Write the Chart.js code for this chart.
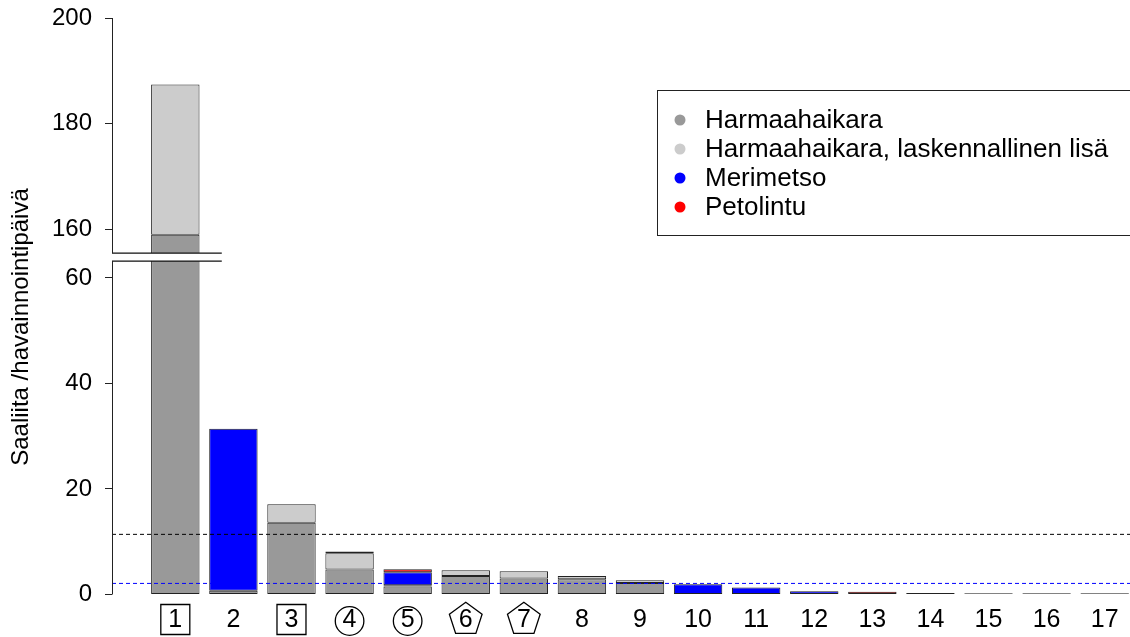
<!DOCTYPE html>
<html><head><meta charset="utf-8">
<script src="https://cdn.jsdelivr.net/npm/chart.js@4"></script>
<style>html,body{margin:0;padding:0;background:#fff;overflow:hidden}canvas{display:block}</style>
</head><body>
<canvas id="c" width="1168" height="637"></canvas>
<script>
// ---------- data ----------
const categories = ['1','2','3','4','5','6','7','8','9','10','11','12','13','14','15','16','17'];
const labelShapes = ['square','','square','circle','circle','pentagon','pentagon','','','','','','','','','',''];
const harmaahaikara     = [158.9, 0.7, 13.6, 4.75, 1.5, 3.5, 3.05, 2.9, 2.2, 0,    0,    0,    0,    0.3, 0.25, 0.25, 0.25];
const harmaahaikaraLisa = [28.5,  0,   3.5,  3.05, 0.25,1.1, 1.35, 0.6, 0.5, 0,    0,    0,    0,    0,   0,    0,    0];
const merimetso         = [0,     30.7,0,    0.35, 2.45,0,   0,    0,   0,   1.95, 1.33, 0.63, 0,    0,   0,    0,    0];
const petolintu         = [0,     0,   0,    0,    0.6, 0,   0,    0,   0,   0,    0,    0,    0.5,  0,   0,    0,    0];
const seriesNames  = ['Harmaahaikara','Harmaahaikara, laskennallinen lisä','Merimetso','Petolintu'];
const seriesColors = ['#999999','#cccccc','#0000ff','#ff0000'];
const yTickValues  = [0,20,40,60,160,180,200];
const refLines     = [11.4, 2.1];
const refColors    = ['#000000','#0000ff'];
const yAxisTitle   = 'Saaliita /havainnointipäivä';

// ---------- broken y axis ----------
const BREAK_LOW = 63.2, BREAK_HIGH = 155.45, BREAK_GAP = 1.52;
const BREAK_SHIFT = BREAK_HIGH - BREAK_LOW - BREAK_GAP;
function mapV(v){ return v <= BREAK_LOW ? v : (v >= BREAK_HIGH ? v - BREAK_SHIFT : BREAK_LOW); }

// barplot layout (width 1, space 0.2, 4% extension)
const SPACE = 0.2;
const xPos = categories.map((_, i) => SPACE + i*(1+SPACE) + 0.5);
const xL = SPACE, xR = categories.length*(1+SPACE);
const X_MIN = xL - 0.04*(xR-xL), X_MAX = xR + 0.04*(xR-xL);
const BREAK_LINE_END = 1.66;

const raw = [harmaahaikara, harmaahaikaraLisa, merimetso, petolintu];
const mapped = raw.map(() => []);
categories.forEach((_, i) => {
  let cum = 0, prevM = 0;
  raw.forEach((s, k) => {
    cum += s[i];
    const m = mapV(cum);
    mapped[k].push({x: xPos[i], y: m - prevM});
    prevM = m;
  });
});

const datasets = [];
refLines.forEach((v, k) => {
  datasets.push({
    type: 'line', label: 'ref'+k,
    data: [{x: X_MIN, y: mapV(v)}, {x: X_MAX, y: mapV(v)}],
    borderColor: refColors[k], borderWidth: 1, borderDash: [4,3],
    pointRadius: 0, fill: false, stack: 'ref'+k, order: 0
  });
});
raw.forEach((_, k) => {
  datasets.push({
    type: 'bar', label: seriesNames[k], data: mapped[k],
    backgroundColor: seriesColors[k], borderColor: '#222', borderWidth: 1,
    borderSkipped: false, categoryPercentage: 1/(1+SPACE), barPercentage: 1,
    stack: 'bars', order: 1
  });
});

const FONT = '"Liberation Sans", Arial, sans-serif';
Chart.defaults.font.family = FONT;
Chart.defaults.color = '#000';

const decor = {
  id: 'decor',
  afterDatasetsDraw(chart) {
    const ctx = chart.ctx, x = chart.scales.x, y = chart.scales.y, ca = chart.chartArea;
    const yLowTop = y.getPixelForValue(BREAK_LOW);
    const yHighBot = y.getPixelForValue(BREAK_LOW + BREAK_GAP);
    const xEnd = x.getPixelForValue(BREAK_LINE_END);
    ctx.save();
    ctx.fillStyle = '#fff';
    ctx.fillRect(ca.left, yHighBot, xEnd - ca.left, yLowTop - yHighBot);
    ctx.strokeStyle = '#111'; ctx.lineWidth = 1.3;
    ctx.beginPath();
    ctx.moveTo(ca.left, yHighBot); ctx.lineTo(xEnd, yHighBot);
    ctx.moveTo(ca.left, yLowTop); ctx.lineTo(xEnd, yLowTop);
    ctx.stroke();
    // axis segments
    ctx.strokeStyle = '#222'; ctx.lineWidth = 1;
    const ax = Math.round(ca.left) + 0.5;
    ctx.beginPath();
    ctx.moveTo(ax, y.getPixelForValue(0)); ctx.lineTo(ax, yLowTop);
    ctx.moveTo(ax, yHighBot); ctx.lineTo(ax, y.getPixelForValue(mapV(200)));
    ctx.stroke();
    ctx.restore();
  },
  afterDraw(chart) {
    const ctx = chart.ctx, x = chart.scales.x, ca = chart.chartArea;
    ctx.save();
    // shapes around x labels
    ctx.strokeStyle = '#000'; ctx.lineWidth = 1.3;
    const cy = ca.bottom + 25;
    labelShapes.forEach((s, i) => {
      if (!s) return;
      const cx = x.getPixelForValue(xPos[i]);
      ctx.beginPath();
      if (s === 'square') {
        ctx.rect(cx - 14.5, cy - 15, 29, 30);
      } else if (s === 'circle') {
        ctx.arc(cx, cy + 1.5, 14.3, 0, Math.PI*2);
      } else if (s === 'pentagon') {
        const R = 17.2;
        for (let j = 0; j < 5; j++) {
          const a = -Math.PI/2 + j*2*Math.PI/5;
          const px = cx + R*Math.cos(a), py = cy + R*Math.sin(a);
          if (j === 0) ctx.moveTo(px, py); else ctx.lineTo(px, py);
        }
        ctx.closePath();
      }
      ctx.stroke();
    });
    // legend
    const lx = 657.5, ly = 90.5, lw = 530, lh = 145;
    ctx.strokeStyle = '#222'; ctx.lineWidth = 1;
    ctx.strokeRect(lx, ly, lw, lh);
    ctx.font = '26px ' + FONT;
    ctx.textBaseline = 'middle'; ctx.textAlign = 'left';
    seriesNames.forEach((n, k) => {
      const yy = 120 + k*29;
      ctx.fillStyle = seriesColors[k];
      ctx.beginPath(); ctx.arc(680, yy, 5.5, 0, Math.PI*2); ctx.fill();
      ctx.fillStyle = '#000';
      ctx.fillText(n, 705, yy + 1);
    });
    // y title
    ctx.translate(21, 327);
    ctx.rotate(-Math.PI/2);
    ctx.font = '24px ' + FONT;
    ctx.textAlign = 'center'; ctx.textBaseline = 'middle';
    ctx.fillStyle = '#000';
    ctx.fillText(yAxisTitle, 0, 0);
    ctx.restore();
  }
};

new Chart(document.getElementById('c'), {
  type: 'bar',
  data: { datasets },
  options: {
    responsive: false, animation: false, devicePixelRatio: 1,
    layout: { padding: { top: 18, left: 0, right: 0, bottom: 0 } },
    plugins: { legend: { display: false }, tooltip: { enabled: false } },
    scales: {
      x: {
        type: 'linear', stacked: true, min: X_MIN, max: X_MAX, bounds: 'data', offset: false,
        afterBuildTicks: s => { s.ticks = xPos.map(v => ({ value: v })); },
        afterFit: s => { s.height = 42.5; s.paddingLeft = 0; s.paddingRight = 0; },
        ticks: { autoSkip: false, maxRotation: 0, minRotation: 0, padding: 11,
                 font: { size: 25 }, color: '#000',
                 callback: (v, i) => categories[i] },
        grid: { display: false, drawTicks: false },
        border: { display: false }
      },
      y: {
        type: 'linear', stacked: true, min: 0, max: mapV(200), bounds: 'data',
        afterBuildTicks: s => { s.ticks = yTickValues.map(v => ({ value: mapV(v) })); },
        afterFit: s => { s.width = 112; s.paddingTop = 0; s.paddingBottom = 0; },
        ticks: { autoSkip: false, padding: 13, font: { size: 24 }, color: '#000',
                 callback: (v, i) => yTickValues[i] },
        grid: { drawOnChartArea: false, drawTicks: true, tickLength: 7, color: '#222', lineWidth: 1 },
        border: { display: false }
      }
    }
  },
  plugins: [decor]
});
</script>
</body></html>
